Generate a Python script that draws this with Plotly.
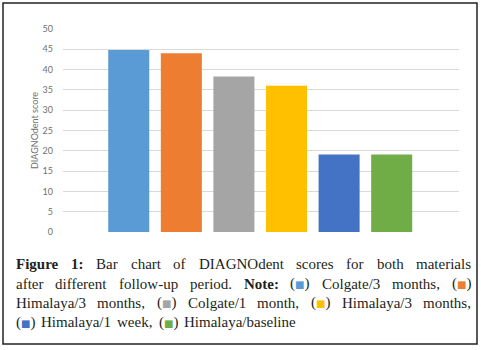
import plotly.graph_objects as go

# ---- data ----
categories = ["Colgate/3 months", "Himalaya/3 months", "Colgate/1 month",
              "Himalaya/3 months", "Himalaya/1 week", "Himalaya/baseline"]
scores = [44.8, 44.0, 38.3, 36.0, 19.1, 19.1]
colors = ["#5B9BD5", "#ED7D31", "#A5A5A5", "#FFC000", "#4472C4", "#70AD47"]
y_ticks = [0, 5, 10, 15, 20, 25, 30, 35, 40, 45, 50]
y_title = "DIAGNOdent score"

W, H = 481, 350
ML, MR, MT, MB = 63, 22, 29, 118
PW, PH = W - ML - MR, H - MT - MB


def px_x(x):
    return (x - ML) / PW


def px_y(y):
    return (H - MB - y) / PH


fig = go.Figure()
fig.add_trace(go.Bar(
    x=list(range(len(scores))), y=scores, width=0.78,
    marker=dict(color=colors, line=dict(width=0)),
    hovertext=categories, hoverinfo="text+y",
))

fig.update_layout(
    width=W, height=H,
    margin=dict(l=ML, r=MR, t=MT, b=MB, pad=0),
    paper_bgcolor="white", plot_bgcolor="white",
    showlegend=False,
    xaxis=dict(range=[-1.25, 6.28], showticklabels=False, showgrid=False,
               zeroline=False, showline=False, fixedrange=True),
    yaxis=dict(range=[0, 50], tickvals=y_ticks, showgrid=True,
               gridcolor="#D9D9D9", gridwidth=1, zeroline=False, showline=False,
               ticks="", ticklabelstandoff=9,
               tickfont=dict(family="Lato", size=9, color="#707070"),
               title=dict(text=y_title, standoff=2,
                          font=dict(family="Lato", size=9, color="#707070")),
               automargin=False),
)

# ---- outer frame ----
fig.add_shape(type="rect", xref="paper", yref="paper",
              x0=px_x(3), x1=px_x(477), y0=px_y(344), y1=px_y(3),
              line=dict(color="#222222", width=1.5), fillcolor="rgba(0,0,0,0)")

# ---- caption (justified) ----
S = 15
TXT = "#231F20"
reg = dict(zip("abcdefghijklmnopqrstuvwxyz",
               [444, 500, 444, 500, 444, 333, 500, 500, 278, 278, 500, 278, 778,
                500, 500, 500, 500, 333, 389, 278, 500, 500, 722, 500, 500, 444]))
reg.update(dict(zip("ABCDEFGHIJKLMNOPQRSTUVWXYZ",
                    [722, 667, 667, 722, 611, 556, 722, 722, 333, 389, 722, 611, 889,
                     722, 722, 556, 722, 667, 556, 611, 722, 722, 944, 722, 722, 611])))
reg.update({" ": 250, ",": 250, ".": 250, ":": 278, "/": 278, "-": 333,
            "(": 333, ")": 333})
for d in "0123456789":
    reg[d] = 500
bold = dict(reg)
bold.update({"F": 611, "u": 556, "r": 444, "t": 333, ":": 333})

SQ_FS = 10
SQ_W = 0.95 * SQ_FS


def word(text, b=False):
    tbl = bold if b else reg
    w = sum(tbl.get(c, 500) for c in text) * S / 1000
    html = f"<b>{text}</b>" if b else text
    return (html, w)


def sq(i):
    html = (f'(<span style="font-family:DejaVu Sans;font-size:{SQ_FS}px;'
            f'color:{colors[i]}">■</span>)')
    return (html, 2 * 333 * S / 1000 + SQ_W)


lines = [
    [word("Figure", True), word("1:", True), word("Bar"), word("chart"), word("of"),
     word("DIAGNOdent"), word("scores"), word("for"), word("both"), word("materials")],
    [word("after"), word("different"), word("follow-up"), word("period."),
     word("Note:", True), sq(0), word("Colgate/3"), word("months,"), sq(1)],
    [word("Himalaya/3"), word("months,"), sq(2), word("Colgate/1"), word("month,"),
     sq(3), word("Himalaya/3"), word("months,")],
    [sq(4), word("Himalaya/1"), word("week,"), sq(5), word("Himalaya/baseline")],
]
centers = [264, 283.5, 302.5, 322]
X0, X1 = 15, 470

for li, (toks, cy) in enumerate(zip(lines, centers)):
    total = sum(w for _, w in toks)
    justify = li < len(lines) - 1
    gap = (X1 - X0 - total) / (len(toks) - 1) if justify else 0.4 * S
    x = X0
    for html, w in toks:
        fig.add_annotation(text=html, x=px_x(x - 1), y=px_y(cy), xref="paper",
                           yref="paper", xanchor="left", yanchor="middle",
                           showarrow=False,
                           font=dict(family="Liberation Serif", size=S, color=TXT))
        x += w + gap

fig.write_html(
    "out.html",
    config={"displayModeBar": False},
    post_script="document.body.style.margin='0';document.body.style.overflow='hidden';",
)
